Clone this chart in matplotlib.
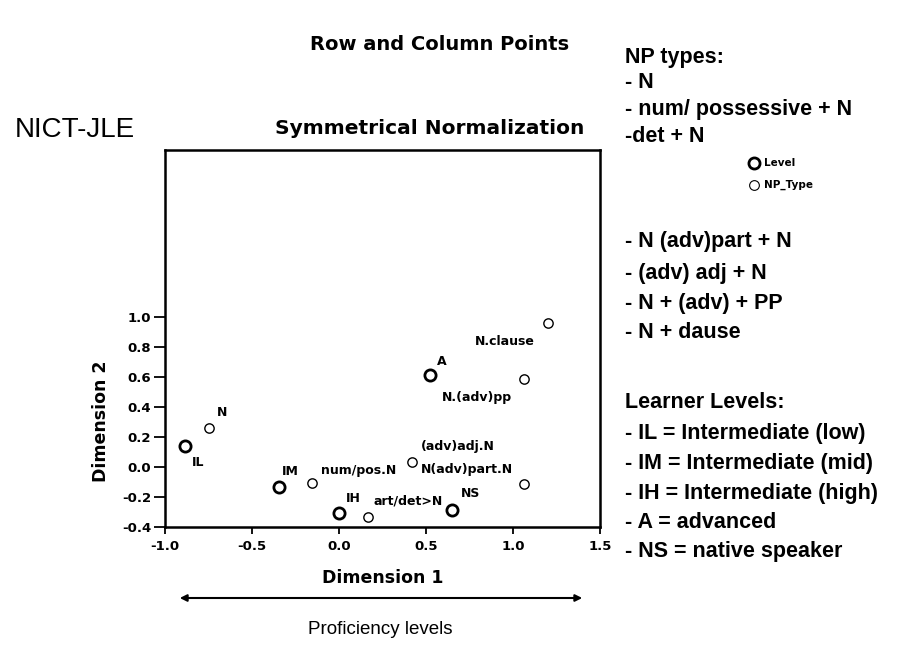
import matplotlib
matplotlib.use("Agg")
import matplotlib.pyplot as plt

plt.rcParams['font.family'] = ['DejaVu Sans']

# Row points (Level)
level_labels = ["IL", "IM", "IH", "A", "NS"]
level_x = [-0.885, -0.346, -0.002, 0.523, 0.652]
level_y = [0.142, -0.131, -0.309, 0.609, -0.287]

# Column points (NP_Type)
np_labels = ["N", "num/pos.N", "art/det>N", "(adv)adj.N", "N(adv)part.N", "N.(adv)pp", "N.clause"]
np_x = [-0.746, -0.158, 0.164, 0.418, 1.062, 1.062, 1.202]
np_y = [0.262, -0.109, -0.335, 0.031, -0.113, 0.584, 0.958]

xticks = [-1.0, -0.5, 0.0, 0.5, 1.0, 1.5]
yticks = [-0.4, -0.2, 0.0, 0.2, 0.4, 0.6, 0.8, 1.0]

# label offsets in pixels (style only)
level_off = [(13, -17), (12, 15), (15, 15), (12, 14), (18, 17)]
np_off = [(13, 15), (47, 13), (41, 16), (46, 16), (-57, 14), (-47, -18), (-43, -18)]

W, H = 898, 658
fig = plt.figure(figsize=(W / 100, H / 100), dpi=100)
left, right, top, bottom = 165, 600, 150, 527
ax = fig.add_axes([left / W, 1 - bottom / H, (right - left) / W, (bottom - top) / H])
ax.set_xlim(-1.0, 1.5)
ax.set_ylim(-0.4, 2.11)
ax.set_xticks(xticks)
ax.set_yticks(yticks)
ax.set_xticklabels([f"{v:.1f}" for v in xticks], fontweight='bold', fontsize=9.5)
ax.set_yticklabels([f"{v:.1f}" for v in yticks], fontweight='bold', fontsize=9.5)
ax.tick_params(axis='y', direction='out', length=8, width=1.3, pad=2)
ax.tick_params(axis='x', direction='out', length=5, width=1.3, pad=4)
for s in ax.spines.values():
    s.set_linewidth(1.8)

ax.scatter(level_x, level_y, s=65, facecolors='white', edgecolors='black', linewidths=2.0, zorder=3)
ax.scatter(np_x, np_y, s=45, facecolors='white', edgecolors='black', linewidths=1.0, zorder=3)

for lab, x, y, off in zip(level_labels, level_x, level_y, level_off):
    ax.annotate(lab, (x, y), xytext=off, textcoords='offset pixels', ha='center', va='center',
                fontsize=9, fontweight='bold')
for lab, x, y, off in zip(np_labels, np_x, np_y, np_off):
    ax.annotate(lab, (x, y), xytext=off, textcoords='offset pixels', ha='center', va='center',
                fontsize=9, fontweight='bold')

ax.set_xlabel("Dimension 1", fontsize=12.5, fontweight='bold', labelpad=12)
ax.set_ylabel("Dimension 2", fontsize=12.5, fontweight='bold')
ax.yaxis.set_label_coords((110 - left) / (right - left), 1 - (421 - top) / (bottom - top))

def fx(px):
    return px / W

def fy(py):
    return 1 - py / H

fig.text(fx(440), fy(45), "Row and Column Points", ha='center', va='center', fontsize=14, fontweight='bold')
fig.text(fx(430), fy(128), "Symmetrical Normalization", ha='center', va='center', fontsize=14.5, fontweight='bold')
fig.text(fx(15), fy(130), "NICT-JLE", ha='left', va='center', fontsize=20, family=['Liberation Sans'])

# Legend
fig.lines.append(matplotlib.lines.Line2D([fx(754)], [fy(163)], marker='o', ms=8, mfc='white', mec='black', mew=2.0, transform=fig.transFigure))
fig.lines.append(matplotlib.lines.Line2D([fx(754)], [fy(185)], marker='o', ms=7, mfc='white', mec='black', mew=0.8, transform=fig.transFigure))
fig.text(fx(764), fy(163), "Level", ha='left', va='center', fontsize=7.5, fontweight='bold')
fig.text(fx(764), fy(185), "NP_Type", ha='left', va='center', fontsize=7.5, fontweight='bold')

right_lines = [
    ("NP types:", 57), ("- N", 83), ("- num/ possessive + N", 110), ("-det + N", 137),
    ("- N (adv)part + N", 242), ("- (adv) adj + N", 273), ("- N + (adv) + PP", 303), ("- N + dause", 333),
    ("Learner Levels:", 403), ("- IL = Intermediate (low)", 433), ("- IM = Intermediate (mid)", 463),
    ("- IH = Intermediate (high)", 493), ("- A = advanced", 523), ("- NS = native speaker", 552),
]
for t, py in right_lines:
    fig.text(fx(625), fy(py), t, ha='left', va='center', fontsize=15.5, fontweight='bold',
             family=['Liberation Sans'])

# Proficiency arrow
fig.add_artist(matplotlib.patches.FancyArrowPatch((fx(177), fy(598)), (fx(585), fy(598)),
               transform=fig.transFigure, arrowstyle='<|-|>', mutation_scale=10, lw=1.5, color='black'))
fig.text(fx(380), fy(630), "Proficiency levels", ha='center', va='center', fontsize=13.5,
         family=['Liberation Sans'])

fig.savefig("out.png", dpi=100)
